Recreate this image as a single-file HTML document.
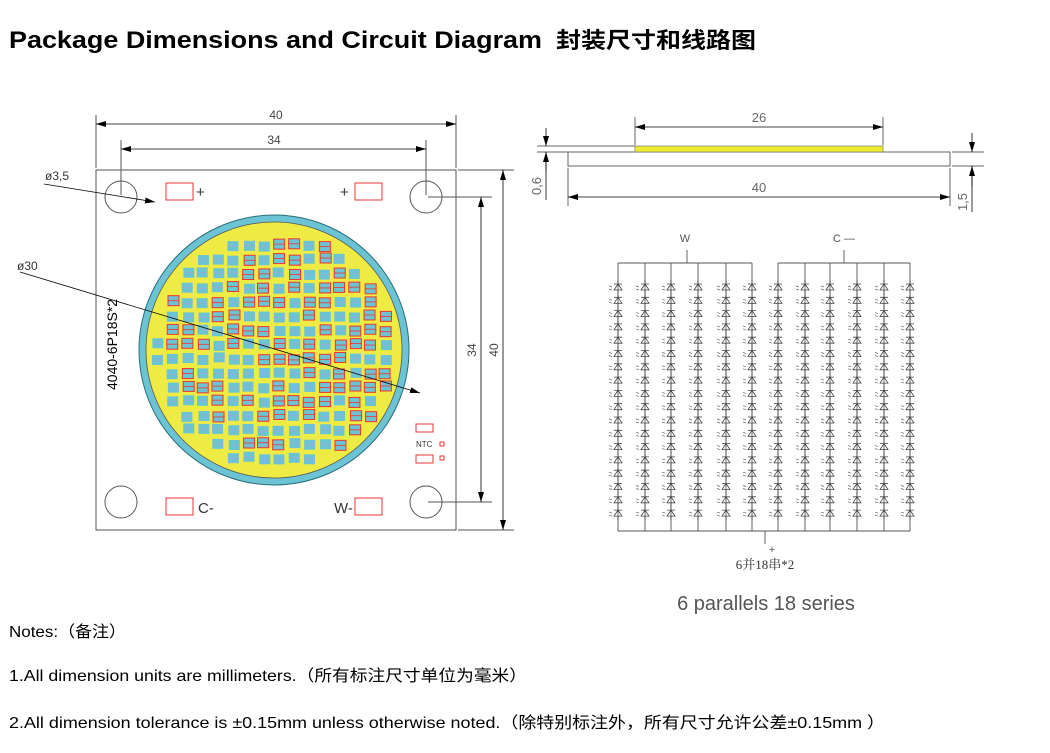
<!DOCTYPE html>
<html><head><meta charset="utf-8"><style>
html,body{margin:0;padding:0;background:#fff;width:1050px;height:753px;overflow:hidden}
svg{display:block}
</style></head><body>
<svg id="s" width="1050" height="753" viewBox="0 0 1050 753" xmlns="http://www.w3.org/2000/svg" font-family="Liberation Sans, Noto Sans CJK SC, sans-serif">
<defs>
<marker id="ar" viewBox="0 0 10 6" refX="10" refY="3" markerWidth="10" markerHeight="6" orient="auto-start-reverse" markerUnits="userSpaceOnUse"><path d="M0,0 L10,3 L0,6 z" fill="#000"/></marker>
<g id="dio"><path d="M0,-7 V7 M-4,3 H4 L0,-3 Z M-4,-3 H4" stroke="#444" stroke-width="0.8" fill="#fff"/><path d="M-9,-1 l3,1 M-9,2 l3,1" stroke="#666" stroke-width="0.7"/></g>
</defs>
<text x="9" y="48" font-size="24" font-weight="bold" textLength="533" lengthAdjust="spacingAndGlyphs">Package Dimensions and Circuit Diagram</text>
<text x="556" y="48" font-size="22" font-weight="bold" font-family="Noto Sans CJK SC, sans-serif" textLength="200" lengthAdjust="spacingAndGlyphs">封装尺寸和线路图</text>

<g stroke="#555" stroke-width="1" fill="none">
<rect x="96" y="170" width="360" height="360"/>
<circle cx="121" cy="197" r="16"/><circle cx="426" cy="197" r="16"/>
<circle cx="121" cy="502" r="16"/><circle cx="426" cy="502" r="16"/>
<line x1="96" y1="115" x2="96" y2="168"/><line x1="456" y1="115" x2="456" y2="168"/>
<line x1="121" y1="140" x2="121" y2="195"/><line x1="426" y1="140" x2="426" y2="195"/>
<line x1="428" y1="197" x2="492" y2="197"/><line x1="428" y1="502" x2="492" y2="502"/>
<line x1="458" y1="170" x2="514" y2="170"/><line x1="458" y1="530" x2="514" y2="530"/>
</g>
<g stroke="#000" stroke-width="0.8">
<line x1="96" y1="124" x2="456" y2="124" marker-start="url(#ar)" marker-end="url(#ar)"/>
<line x1="121" y1="149" x2="426" y2="149" marker-start="url(#ar)" marker-end="url(#ar)"/>
<line x1="481" y1="197" x2="481" y2="502" marker-start="url(#ar)" marker-end="url(#ar)"/>
<line x1="503" y1="170" x2="503" y2="530" marker-start="url(#ar)" marker-end="url(#ar)"/>
</g>
<g font-size="12" fill="#444" text-anchor="middle">
<text x="276" y="119">40</text><text x="274" y="144">34</text>
<text x="476" y="350" transform="rotate(-90 476 350)">34</text>
<text x="498" y="350" transform="rotate(-90 498 350)">40</text>
</g>
<circle cx="274" cy="350" r="135" fill="#6cc3d3" stroke="#2a6e7a" stroke-width="1"/>
<circle cx="274" cy="350" r="128" fill="#eeec44" stroke="#555" stroke-width="0.8"/>
<g id="chips"></g>
<g stroke="#000" stroke-width="0.8">
<line x1="44" y1="184" x2="155" y2="202" marker-end="url(#ar)"/>
<line x1="20" y1="272" x2="420" y2="393" marker-end="url(#ar)"/>
</g>
<g font-size="12" fill="#333"><text x="45" y="180">ø3,5</text><text x="17" y="270">ø30</text></g>
<text x="117" y="390" font-size="14" transform="rotate(-90 117 390)">4040-6P18S*2</text>
<g fill="none" stroke="#e33" stroke-width="1">
<rect x="166" y="183" width="27" height="17"/><rect x="355" y="183" width="27" height="17"/>
<rect x="166" y="498" width="27" height="17"/><rect x="355" y="498" width="27" height="17"/>
<rect x="416" y="424" width="17" height="8"/><rect x="416" y="455" width="17" height="8"/>
<rect x="440" y="442" width="4" height="4"/><rect x="440" y="456" width="4" height="4"/>
</g>
<g font-size="15" fill="#333"><text x="196" y="197">+</text><text x="340" y="197">+</text><text x="198" y="513">C-</text><text x="334" y="513">W-</text></g>
<text x="416" y="447" font-size="8" fill="#333">NTC</text>

<g stroke="#666" stroke-width="1" fill="none">
<rect x="568" y="152" width="382" height="14"/>
<line x1="537" y1="146" x2="635" y2="146"/><line x1="537" y1="152" x2="568" y2="152"/>
<line x1="635" y1="117" x2="635" y2="145"/><line x1="883" y1="117" x2="883" y2="145"/>
<line x1="568" y1="168" x2="568" y2="206"/><line x1="950" y1="168" x2="950" y2="206"/>
<line x1="952" y1="152" x2="984" y2="152"/><line x1="952" y1="166" x2="984" y2="166"/>
</g>
<rect x="635" y="146" width="248" height="6" fill="#eeec30" stroke="#777" stroke-width="0.7"/>
<g stroke="#000" stroke-width="0.8">
<line x1="635" y1="127" x2="883" y2="127" marker-start="url(#ar)" marker-end="url(#ar)"/>
<line x1="568" y1="197" x2="950" y2="197" marker-start="url(#ar)" marker-end="url(#ar)"/>
<line x1="546" y1="128" x2="546" y2="146" marker-end="url(#ar)"/><line x1="546" y1="170" x2="546" y2="152" marker-end="url(#ar)"/>
<line x1="546" y1="152" x2="546" y2="200"/>
<line x1="972" y1="133" x2="972" y2="152" marker-end="url(#ar)"/><line x1="972" y1="186" x2="972" y2="166" marker-end="url(#ar)"/>
<line x1="972" y1="166" x2="972" y2="212"/>
</g>
<g font-size="13" fill="#666" text-anchor="middle">
<text x="759" y="122">26</text><text x="759" y="192">40</text>
<text x="541" y="186" transform="rotate(-90 541 186)">0,6</text>
<text x="967" y="202" transform="rotate(-90 967 202)">1,5</text>
</g>

<g id="circ" stroke="#555" stroke-width="0.9" fill="none">
<line x1="618" y1="263" x2="752" y2="263"/><line x1="778" y1="263" x2="910" y2="263"/>
<line x1="687" y1="250" x2="687" y2="263"/><line x1="844" y1="250" x2="844" y2="263"/>
<line x1="618" y1="531" x2="910" y2="531"/><line x1="765" y1="531" x2="765" y2="544"/>
</g>
<g font-size="11" fill="#555" text-anchor="middle"><text x="685" y="242">W</text><text x="844" y="242">C —</text><text x="772" y="553">+</text></g>
<text x="765" y="569" font-size="13" fill="#333" text-anchor="middle" font-family="Liberation Serif, Noto Serif CJK SC, serif">6并18串*2</text>
<text x="766" y="610" font-size="20" fill="#555" text-anchor="middle">6 parallels 18 series</text>

<g font-size="16" fill="#000">
<text x="9" y="637" textLength="117" lengthAdjust="spacingAndGlyphs">Notes:（备注）</text>
<text x="9" y="681" textLength="518" lengthAdjust="spacingAndGlyphs">1.All dimension units are millimeters.（所有标注尺寸单位为毫米）</text>
<text x="9" y="728" textLength="876" lengthAdjust="spacingAndGlyphs">2.All dimension tolerance is ±0.15mm unless otherwise noted.（除特别标注外，所有尺寸允许公差±0.15mm  ）</text>
</g>
</svg>
<script>
var NS="http://www.w3.org/2000/svg";
function el(p,t,a){var e=document.createElementNS(NS,t);for(var k in a)e.setAttribute(k,a[k]);p.appendChild(e);return e;}
var g=document.getElementById("chips");
var seed=7;function rnd(){seed=(seed*16807)%2147483647;return seed/2147483647;}
for(var cx=152;cx<=400;cx+=15.2){for(var cy=226;cy<=478;cy+=14.2){
 var x=cx+(rnd()-0.5)*2,y=cy+(rnd()-0.5)*3;
 var dx=x+5-274,dy=y+5-350; if(dx*dx+dy*dy>118*118)continue;
 var red=rnd()<0.45;
 el(g,"rect",{x:x,y:y,width:11,height:10,fill:"#6cc3d3",stroke:red?"#e33":"none","stroke-width":1});
 el(g,"line",{x1:x,y1:y+5,x2:x+11,y2:y+5,stroke:red?"#e33":"#9ad","stroke-width":0.8});
}}
var c=document.getElementById("circ");
var cols=[618,645,671,698,726,752,778,805,830,857,884,910];
cols.forEach(function(x){
 el(c,"line",{x1:x,y1:263,x2:x,y2:531});
 for(var i=0;i<18;i++){var y=287+i*13.3;el(c,"use",{href:"#dio",x:x,y:y});}
});
</script>
</body></html>
